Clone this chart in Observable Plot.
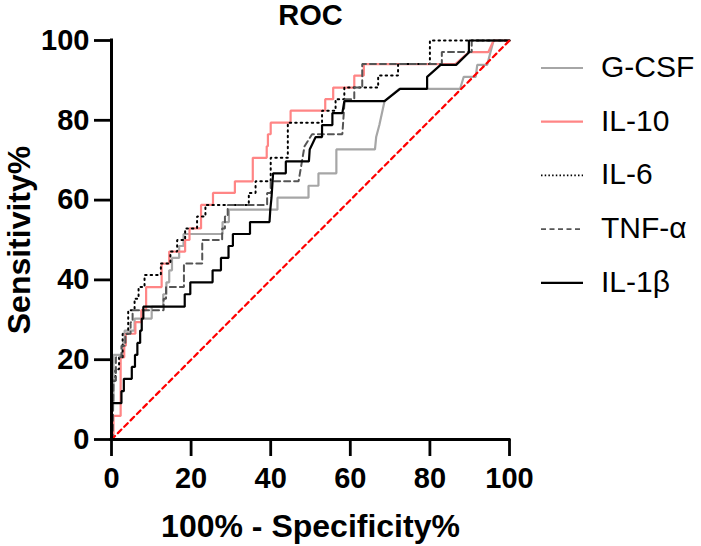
<!DOCTYPE html>
<html><head><meta charset="utf-8">
<script src="https://cdn.jsdelivr.net/npm/d3@7"></script>
<script src="https://cdn.jsdelivr.net/npm/@observablehq/plot@0.6"></script>
<style>
body{margin:0;background:#fff;}
#wrap{position:relative;width:701px;height:546px;font-family:"Liberation Sans",Arial,sans-serif;}
#legend{position:absolute;left:0;top:0;pointer-events:none;}
</style>
</head><body>
<div id="wrap"></div>
<script>
// ---- data ----
const seriesNames = ["G-CSF", "IL-10", "IL-6", "TNF-α", "IL-1β"];
const tickValues = [0, 20, 40, 60, 80, 100];
const titleText = "ROC";
const xTitle = "100% - Specificity%";
const yTitle = "Sensitivity%";

const gcsfFpr = [0,0,0.5,0.5,2.9,2.9,3.3,3.3,5.8,5.8,10.1,10.1,13.0,13.0,13.8,13.8,14.5,14.5,15.2,15.2,17.0,17.0,18.1,18.1,27.9,27.9,29.5,29.5,41.7,41.7,49.5,49.5,52.0,52.0,56.5,56.5,66.2,66.5,67.3,68.6,72.3,87.6,88.5,91.5,91.9,94.4,95.2,96.0,100];
const gcsfTpr = [0,9.1,9.1,21.2,21.2,24.2,24.2,27.3,27.3,30.3,30.3,33.3,33.3,36.4,36.4,39.4,39.4,42.4,42.4,45.5,45.5,48.5,48.5,51.5,51.5,54.5,54.5,57.6,57.6,60.6,60.6,63.6,63.6,66.7,66.7,72.7,72.7,75.8,78.8,84.8,87.9,87.9,90.9,90.9,93.9,93.9,97.0,100,100];

const il10Fpr = [0,0.5,0.5,2.3,2.3,3.2,3.2,3.6,3.6,6.0,6.0,7.5,7.5,8.7,8.7,12.6,12.6,14.5,14.5,18.5,18.5,19.6,19.6,22.5,22.5,25.5,25.5,31.0,31.0,35.5,35.5,39.0,39.0,39.3,39.3,40.0,40.0,45.0,45.0,53.7,53.7,55.7,55.7,61.0,61.0,63.4,63.4,86.4,89.8,94.7,96.0,100];
const il10Tpr = [0,0,5.9,5.9,20.6,20.6,23.5,23.5,26.5,26.5,29.4,29.4,32.4,32.4,38.2,38.2,44.1,44.1,47.1,47.1,50.0,50.0,52.9,52.9,58.8,58.8,61.8,61.8,64.7,64.7,70.6,70.6,73.5,73.5,76.5,76.5,79.4,79.4,82.4,82.4,85.3,85.3,88.2,88.2,91.2,91.2,94.1,94.1,97.1,97.1,100,100];

const il6Fpr = [0,0,1.0,1.0,1.9,1.9,2.8,2.8,4.2,4.2,5.8,5.8,6.8,6.8,8.3,8.3,12.4,12.4,14.8,14.8,16.5,16.5,18.5,18.5,21.5,21.5,23.6,23.6,34.5,34.5,36.2,36.2,40.0,40.0,44.3,44.3,52.9,52.9,56.3,56.3,58.5,58.5,67.0,67.0,72.0,72.0,80.0,80.0,100];
const il6Tpr = [0,14.7,14.7,17.6,17.6,20.6,20.6,26.5,26.5,32.4,32.4,35.3,35.3,38.2,38.2,41.2,41.2,44.1,44.1,47.1,47.1,50.0,50.0,52.9,52.9,55.9,55.9,58.8,58.8,61.8,61.8,64.7,64.7,70.6,70.6,79.4,79.4,82.4,82.4,85.3,85.3,88.2,88.2,91.2,91.2,94.1,94.1,100,100];

const tnfFpr = [0,0.3,0.5,1.1,1.1,2.5,2.5,3.5,3.5,4.8,4.8,5.3,5.3,13.1,13.1,13.7,13.7,18.2,18.2,22.8,22.8,27.8,27.8,28.5,28.5,29.2,29.2,39.1,39.1,40.0,40.0,47.0,47.5,48.0,48.5,50.4,58.0,58.2,58.4,58.6,61.0,61.0,63.0,63.0,83.0,83.0,90.5,90.5,100];
const tnfTpr = [0,0,14.7,14.7,20.6,20.6,23.5,23.5,26.5,26.5,29.4,29.4,32.4,32.4,35.3,35.3,38.2,38.2,44.1,44.1,50.0,50.0,52.9,52.9,55.9,55.9,58.8,58.8,61.8,61.8,64.7,64.7,67.6,70.6,73.5,76.5,76.5,79.4,82.4,85.3,85.3,88.2,88.2,94.1,94.1,97.1,97.1,100,100];

const il1bFpr = [0,0,2.5,2.5,3.1,3.1,5.1,5.1,5.9,5.9,6.5,6.5,7.2,7.2,7.6,7.6,8.0,8.0,18.4,18.4,19.8,19.8,25.4,25.4,27.5,27.5,29.4,29.4,30.5,30.5,34.8,34.8,39.7,39.9,40.2,40.4,40.6,43.8,43.8,49.6,49.8,51.3,52.9,52.9,55.5,55.5,58.0,58.5,68.6,72.5,79.3,79.3,82.7,86.6,89.8,89.8,100];
const il1bTpr = [0,9.1,9.1,12.1,12.1,15.2,15.2,18.2,18.2,21.2,21.2,24.2,24.2,27.3,27.3,30.3,30.3,33.3,33.3,36.4,36.4,39.4,39.4,42.4,42.4,45.5,45.5,48.5,48.5,51.5,51.5,54.5,54.5,57.6,60.6,63.6,66.7,66.7,69.7,69.7,72.7,75.8,75.8,78.8,78.8,81.8,81.8,84.8,84.8,87.9,87.9,90.9,93.9,93.9,97.0,100,100];

const refX = [0, 100];
const refY = [0, 100];

// ---- build tables ----
const seriesFpr = [gcsfFpr, il10Fpr, il6Fpr, tnfFpr, il1bFpr];
const seriesTpr = [gcsfTpr, il10Tpr, il6Tpr, tnfTpr, il1bTpr];
const rows = [];
seriesNames.forEach((name, i) => {
  seriesFpr[i].forEach((x, j) => rows.push({series: name, fpr: x, tpr: seriesTpr[i][j], order: j}));
});
const refRows = refX.map((x, i) => ({fpr: x, tpr: refY[i]}));

// ---- styles ----
const styles = {
  "G-CSF": {stroke: "#a6a6a6", width: 2.2, dash: null, legendDash: null},
  "IL-10": {stroke: "#ff8585", width: 2.2, dash: null, legendDash: null},
  "IL-6":  {stroke: "#000000", width: 2, dash: "1.5,4", legendDash: "1.5,2.2"},
  "TNF-α": {stroke: "#555555", width: 2, dash: "6,4", legendDash: "5,3.5"},
  "IL-1β": {stroke: "#000000", width: 2.2, dash: null, legendDash: null}
};

const lineMarks = seriesNames.map(name => Plot.line(rows.filter(d => d.series === name), {
  x: "fpr", y: "tpr",
  stroke: styles[name].stroke,
  strokeWidth: styles[name].width,
  strokeDasharray: styles[name].dash || undefined,
  strokeLinejoin: "miter"
}));

const chart = Plot.plot({
  width: 701,
  height: 546,
  marginLeft: 111,
  marginRight: 192,
  marginTop: 40,
  marginBottom: 107,
  style: {fontFamily: "'Liberation Sans', Arial, sans-serif", background: "#fff", overflow: "visible"},
  x: {domain: [0, 100], label: null},
  y: {domain: [0, 100], label: null},
  marks: [
    ...lineMarks,
    Plot.line(refRows, {x: "fpr", y: "tpr", stroke: "#ff0000", strokeWidth: 2.2, strokeDasharray: "5,4"}),
    Plot.ruleX([0], {stroke: "#000", strokeWidth: 3, strokeLinecap: "square"}),
    Plot.ruleY([0], {stroke: "#000", strokeWidth: 3, strokeLinecap: "square"}),
    Plot.axisX({ticks: tickValues, tickSize: 17, tickPadding: 11, strokeWidth: 2.8, fontSize: 29, fontWeight: "bold", label: null, tickFormat: d => d, fill: "#000"}),
    Plot.axisY({ticks: tickValues, tickSize: 17, tickPadding: 5, strokeWidth: 2.8, fontSize: 29, fontWeight: "bold", label: null, tickFormat: d => d, fill: "#000"}),
    Plot.text([titleText], {text: d => d, frameAnchor: "top", textAnchor: "middle", lineAnchor: "middle", dy: -25, fontSize: 29, fontWeight: "bold", fill: "#000"}),
    Plot.text([xTitle], {text: d => d, frameAnchor: "bottom", textAnchor: "middle", lineAnchor: "middle", dy: 87, fontSize: 32, fontWeight: "bold", fill: "#000"}),
    Plot.text([yTitle], {text: d => d, frameAnchor: "left", textAnchor: "middle", lineAnchor: "middle", dx: -92, rotate: -90, fontSize: 32, fontWeight: "bold", fill: "#000"})
  ]
});

const wrap = document.getElementById("wrap");
wrap.appendChild(chart);

// ---- legend ----
const leg = d3.select(wrap).append("svg")
  .attr("id", "legend").attr("width", 701).attr("height", 546);
seriesNames.forEach((name, i) => {
  const cy = 68 + i * 53.7;
  const s = styles[name];
  leg.append("line")
    .attr("x1", 541).attr("x2", 583).attr("y1", cy).attr("y2", cy)
    .attr("stroke", s.stroke).attr("stroke-width", s.legendDash ? 1.6 : 2.2)
    .attr("stroke-dasharray", s.legendDash);
  leg.append("text")
    .attr("x", 601).attr("y", cy + 9)
    .attr("font-size", 30)
    .attr("font-family", "'Liberation Sans', Arial, sans-serif")
    .attr("fill", "#000")
    .text(name);
});
</script>
</body></html>
